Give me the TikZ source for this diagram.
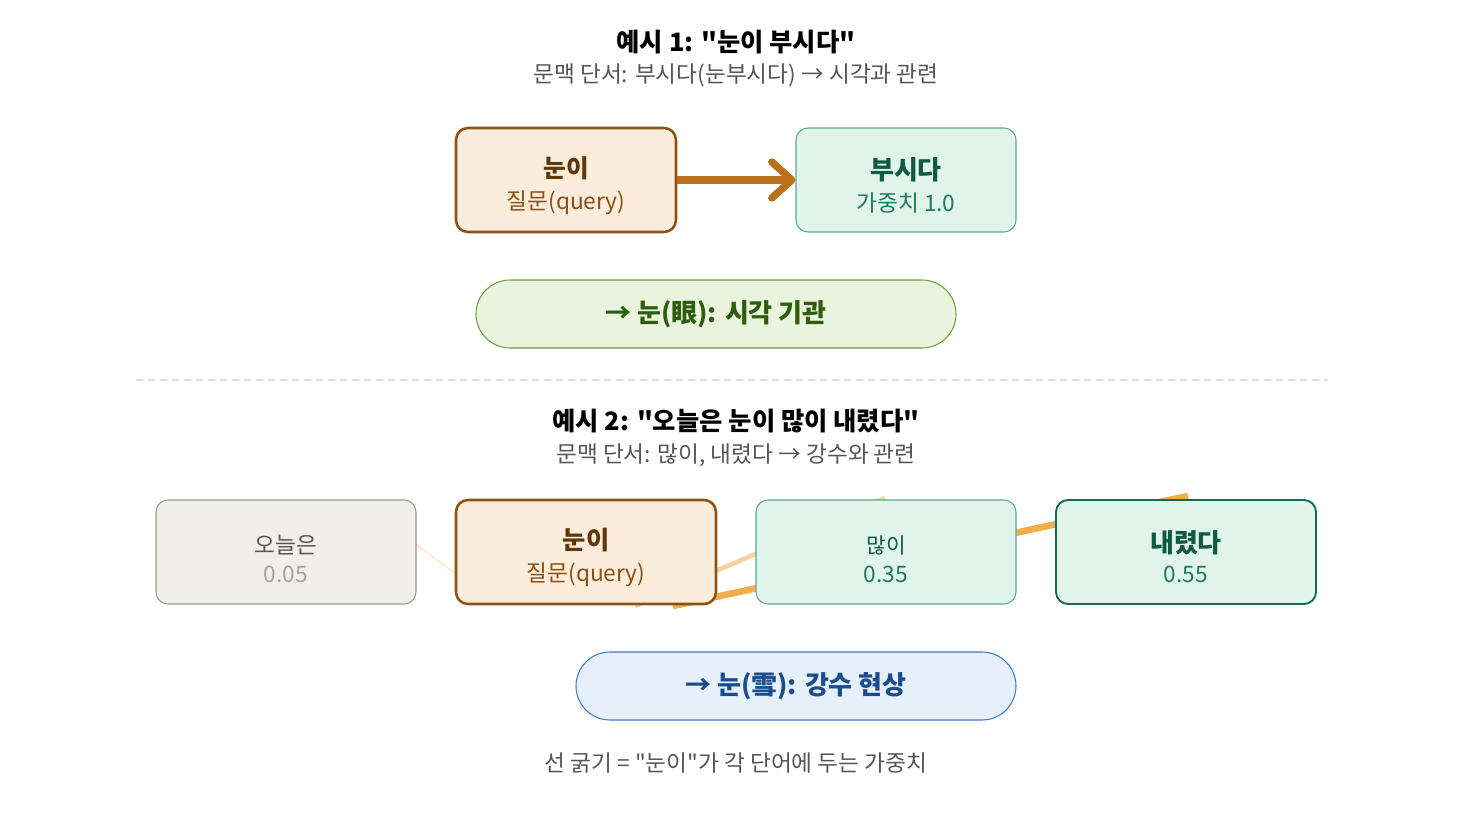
\documentclass[tikz,border=0pt]{standalone}
\usepackage{fontspec}
\setmainfont{Noto Sans CJK KR}[Ligatures=TeXOff]
\usetikzlibrary{arrows.meta}

\definecolor{qfill}{HTML}{FBEDDB}
\definecolor{qbrd}{HTML}{8B5314}
\definecolor{qtxt}{HTML}{5E370A}
\definecolor{qsub}{HTML}{8B4F12}
\definecolor{kfill}{HTML}{E1F4EC}
\definecolor{kbrd}{HTML}{5AA88E}
\definecolor{kbrdd}{HTML}{146B50}
\definecolor{ktxt}{HTML}{0E5A43}
\definecolor{ksub}{HTML}{1F7A5E}
\definecolor{gfill}{HTML}{F1EFE9}
\definecolor{gbrd}{HTML}{9A9691}
\definecolor{gtxt}{HTML}{5A5753}
\definecolor{gsub}{HTML}{A6A29E}
\definecolor{arrc}{HTML}{B8711A}
\definecolor{eyefill}{HTML}{E9F3DD}
\definecolor{eyebrd}{HTML}{6F9C45}
\definecolor{eyetxt}{HTML}{2F5D10}
\definecolor{snowfill}{HTML}{E6F0FB}
\definecolor{snowbrd}{HTML}{3C7BC6}
\definecolor{snowtxt}{HTML}{1B4D8C}
\definecolor{wlow}{HTML}{FCEBD6}
\definecolor{wmid}{HTML}{F8D39F}
\definecolor{whigh}{HTML}{F0AE4C}
\definecolor{subgray}{HTML}{555555}
\definecolor{sepgray}{HTML}{DDDDDD}

\newcommand{\mainsz}[1]{\fontsize{#1}{22}\selectfont\rule{0pt}{24pt}}
\newcommand{\subsz}{\fontsize{17}{20}\selectfont}

\begin{document}
\begin{tikzpicture}[x=0.75pt,y=-0.75pt]
				\tikzstyle{every node}=[inner sep=0pt]
				\tikzstyle{title}=[font=\fontsize{19}{22}\selectfont\bfseries, text=black]
				\tikzstyle{hint}=[font=\fontsize{17}{20}\selectfont, text=subgray]
				\tikzstyle{box}=[rounded corners=9pt, minimum height=78pt, align=center]
				\tikzstyle{query}=[box, draw=qbrd, fill=qfill, line width=1.9pt, text=qtxt]
				\tikzstyle{key}=[box, draw=kbrd, fill=kfill, line width=0.8pt, text=ktxt]
				\tikzstyle{other}=[box, draw=gbrd, fill=gfill, line width=0.8pt, text=gtxt]
				\tikzstyle{sense}=[rounded corners=25.5pt, minimum height=51pt, line width=0.8pt, font=\fontsize{19.5}{22}\selectfont\bfseries]
				\tikzstyle{weight}=[line cap=butt]
				\useasboundingbox (0,0) rectangle (1472,820);

				% example 1
				\node[title] (t1) at (736,42) {예시 1: "눈이 부시다"};
				\node[hint] (h1) at (736,75) {문맥 단서: 부시다(눈부시다) → 시각과 관련};
				\node[query, minimum width=165pt] (q1) at (566,180) {{\mainsz{18.5}\bfseries 눈이}\\[7pt]{\subsz\color{qsub} 질문(query)}};
				\node[key, minimum width=165pt] (k1) at (906,180) {{\mainsz{19.5}\bfseries 부시다}\\[7pt]{\subsz\color{ksub} 가중치 1.0}};
				\draw[arrc, line width=5.5pt, -{Straight Barb[length=15pt,width=27pt,round]}] (q1.east) -- (k1.west);
				\node[sense, draw=eyebrd, fill=eyefill, text=eyetxt, minimum width=360pt] (eye) at (716,314) {→ 눈(眼): 시각 기관};

				\coordinate (sl) at (136,380);
				\coordinate (sr) at (1328,380);
				\draw[sepgray, line width=0.8pt, dash pattern=on 5pt off 4pt] (sl) -- (sr);

				% example 2
				\node[title] (t2) at (736,421) {예시 2: "오늘은 눈이 많이 내렸다"};
				\node[hint] (h2) at (736,455) {문맥 단서: 많이, 내렸다 → 강수와 관련};

				\coordinate (a1) at (390,525);
				\coordinate (b1) at (480,592);
				\coordinate (a2) at (635,606);
				\coordinate (b2) at (885,498);
				\coordinate (a3) at (673,606);
				\coordinate (b3) at (1188,496);
				\draw[weight, wlow, line width=1.5pt] (a1) -- (b1);
				\draw[weight, wmid, line width=3.5pt] (a2) -- (b2);
				\draw[weight, whigh, line width=5pt] (a3) -- (b3);

				\node[other, minimum width=195pt] (w1) at (286,552) {{\mainsz{17}오늘은}\\[7pt]{\subsz\color{gsub} 0.05}};
				\node[query, minimum width=195pt] (q2) at (586,552) {{\mainsz{19}\bfseries 눈이}\\[7pt]{\subsz\color{qsub} 질문(query)}};
				\node[key, minimum width=195pt] (w3) at (886,552) {{\mainsz{16}많이}\\[7pt]{\subsz\color{ksub} 0.35}};
				\node[key, draw=kbrdd, line width=1.4pt, minimum width=195pt] (w4) at (1186,552) {{\mainsz{19.5}\bfseries 내렸다}\\[7pt]{\subsz\color{ksub} 0.55}};
				\node[sense, draw=snowbrd, fill=snowfill, text=snowtxt, minimum width=330pt] (snow) at (796,686) {→ 눈(雪): 강수 현상};

				\node[hint] (note) at (736,763) {선 굵기 = "눈이"가 각 단어에 두는 가중치};
\end{tikzpicture}
\end{document}
